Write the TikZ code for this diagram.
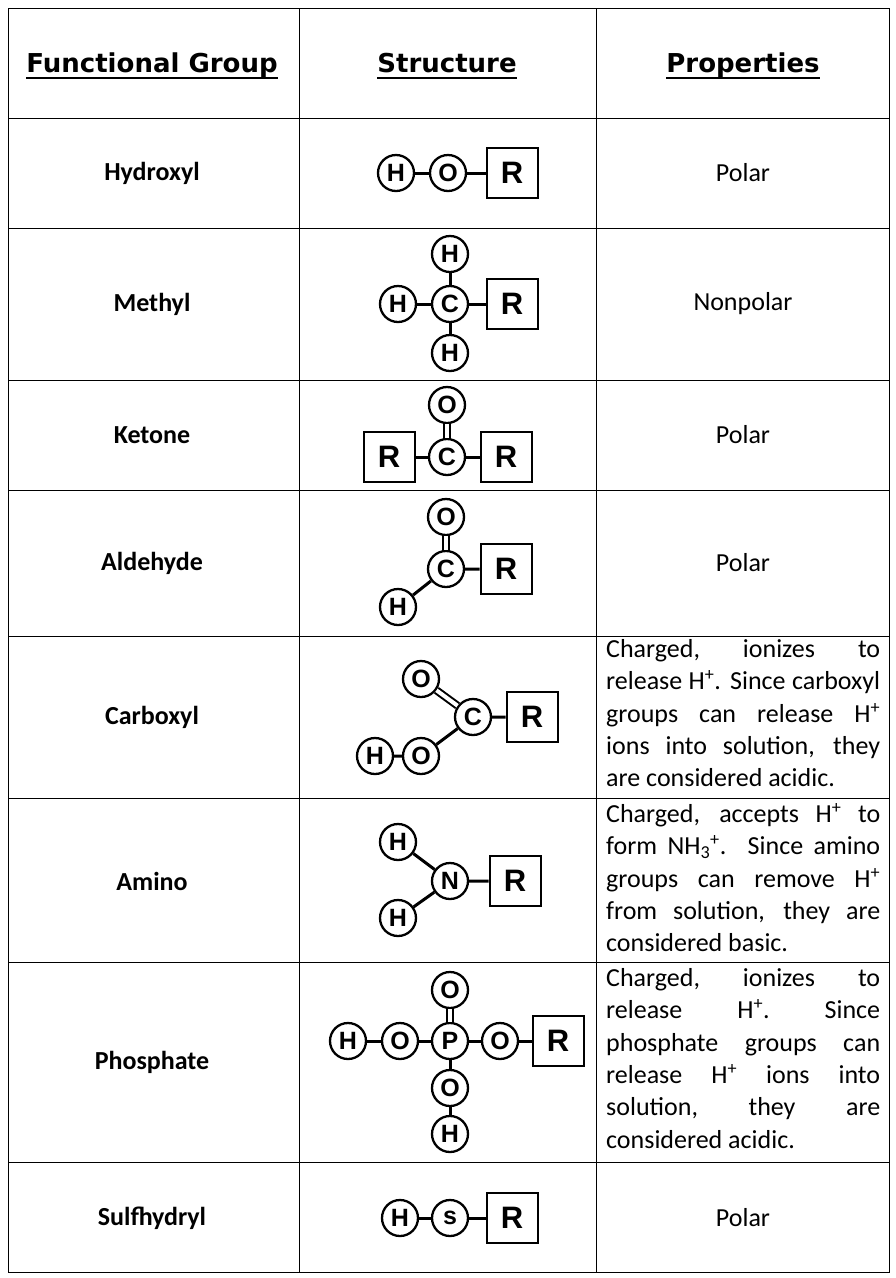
\documentclass[tikz,border=0pt]{standalone}
\usepackage{fontspec}
\setmainfont{Carlito}
\newfontfamily\atomfont{Liberation Sans}
\newfontfamily\headfont{DejaVu Sans}
\tikzset{%
  atom/.style={circle,draw,line width=2.3pt,minimum size=36pt,inner sep=0pt,fill=white,font=\atomfont\bfseries\fontsize{25}{25}\selectfont},
  rbox/.style={draw,line width=2pt,minimum width=51pt,minimum height=50pt,inner sep=0pt,fill=white,font=\atomfont\bfseries\fontsize{31}{31}\selectfont},
  bond/.style={line width=3pt},
  dbond/.style={double,line width=2pt,double distance=4pt},
  head/.style={inner sep=0pt,font=\headfont\bfseries\fontsize{26}{26}\selectfont},
  groupname/.style={font=\bfseries\fontsize{26}{26}\selectfont},
  prop/.style={text width=274pt,align=justify,inner sep=0pt,font=\fontsize{26}{32.4}\selectfont}
}
\begin{document}
\begin{tikzpicture}[x=1pt,y=-1pt]
    \useasboundingbox (0,0) rectangle (896,1278);
    % Grid
    \draw[line width=1pt] (8,8) rectangle (889,1272);
    \foreach \xv in {299,596} \draw[line width=1pt] (\xv,8) -- (\xv,1272);
    \foreach \yv in {118,228,380,490,636,798,962,1162} \draw[line width=1pt] (8,\yv) -- (889,\yv);

    % Headings
    \node[head,anchor=base] (hdA) at (152,72) {Functional Group};
    \node[head,anchor=base] (hdB) at (447,72) {Structure};
    \node[head,anchor=base] (hdC) at (743,72) {Properties};
    \foreach \h in {hdA,hdB,hdC}
        \draw[line width=2.5pt] ([yshift=-6pt]\h.base west) -- ([yshift=-6pt]\h.base east);

    % Names
    \foreach \yv/\txt in {173/Hydroxyl,304/Methyl,435/Ketone,563/Aldehyde,717/Carboxyl,881/Amino,1062/Phosphate,1218/Sulfhydryl}
        \node[groupname] at (152,\yv) {\txt};

    % Short properties
    \foreach \yv/\txt in {173/Polar,304/Nonpolar,435/Polar,563/Polar,1218/Polar}
        \node[font=\fontsize{26}{26}\selectfont] at (743,\yv) {\txt};

    % Long properties
    \node[prop,anchor=north west] at (606,639) {Charged,\hfill ionizes\hfill to\linebreak release H\textsuperscript{+}. Since carboxyl\linebreak groups can release H\textsuperscript{+}\linebreak ions into solution, they\linebreak are considered acidic.};
    \node[prop,anchor=north west] at (606,803) {Charged, accepts H\textsuperscript{+} to\linebreak form NH\textsubscript{3}\textsuperscript{+}. Since amino\linebreak groups can remove H\textsuperscript{+}\linebreak from solution, they are\linebreak considered basic.};
    \node[prop,anchor=north west] at (606,968) {Charged,\hfill ionizes\hfill to\linebreak release\hfill H\textsuperscript{+}.\hfill Since\linebreak phosphate groups can\linebreak release H\textsuperscript{+} ions into\linebreak solution,\hfill they\hfill are\linebreak considered acidic.};

    % Hydroxyl
    \node[atom] (hyH) at (396,173) {H};
    \node[atom] (hyO) at (448,173) {O};
    \node[rbox] (hyR) at (512,173) {R};
    \draw[bond] (hyH) -- (hyO) -- (hyR);

    % Methyl
    \node[atom] (meC) at (450,304) {C};
    \node[atom] (meH1) at (398,304) {H};
    \node[atom] (meH2) at (450,254) {H};
    \node[atom] (meH3) at (450,353) {H};
    \node[rbox] (meR) at (512,304) {R};
    \draw[bond] (meH1) -- (meC) -- (meR) (meH2) -- (meC) -- (meH3);

    % Ketone
    \node[rbox] (keR1) at (389,457) {R};
    \node[atom] (keC) at (447,457) {C};
    \node[atom] (keO) at (447,405) {O};
    \node[rbox] (keR2) at (506,457) {R};
    \draw[bond] (keR1) -- (keC) -- (keR2);
    \draw[dbond] (keC) -- (keO);

    % Aldehyde
    \node[atom] (alO) at (446,517) {O};
    \node[atom] (alC) at (446,569) {C};
    \node[atom] (alH) at (398,607) {H};
    \node[rbox] (alR) at (506,569) {R};
    \draw[bond] (alH) -- (alC) -- (alR);
    \draw[dbond] (alC) -- (alO);

    % Carboxyl
    \node[atom] (caO1) at (421,679) {O};
    \node[atom] (caC) at (473,717) {C};
    \node[atom] (caH) at (375,756) {H};
    \node[atom] (caO2) at (421,756) {O};
    \node[rbox] (caR) at (532,717) {R};
    \draw[bond] (caH) -- (caO2) -- (caC) -- (caR);
    \draw[dbond] (caC) -- (caO1);

    % Amino
    \node[atom] (amH1) at (398,842) {H};
    \node[atom] (amN) at (450,881) {N};
    \node[atom] (amH2) at (398,918) {H};
    \node[rbox] (amR) at (515,881) {R};
    \draw[bond] (amH1) -- (amN) -- (amR) (amH2) -- (amN);

    % Phosphate
    \node[atom] (phH1) at (348,1041) {H};
    \node[atom] (phO1) at (400,1041) {O};
    \node[atom] (phP) at (450,1041) {P};
    \node[atom] (phO2) at (450,990) {O};
    \node[atom] (phO3) at (500,1041) {O};
    \node[rbox] (phR) at (558,1041) {R};
    \node[atom] (phO4) at (450,1088) {O};
    \node[atom] (phH2) at (450,1134) {H};
    \draw[bond] (phH1) -- (phO1) -- (phP) -- (phO3) -- (phR) (phP) -- (phO4) -- (phH2);
    \draw[dbond] (phP) -- (phO2);

    % Sulfhydryl
    \node[atom] (suH) at (400,1218) {H};
    \node[atom] (suS) at (450,1218) {s};
    \node[rbox] (suR) at (512,1218) {R};
    \draw[bond] (suH) -- (suS) -- (suR);
\end{tikzpicture}
\end{document}
